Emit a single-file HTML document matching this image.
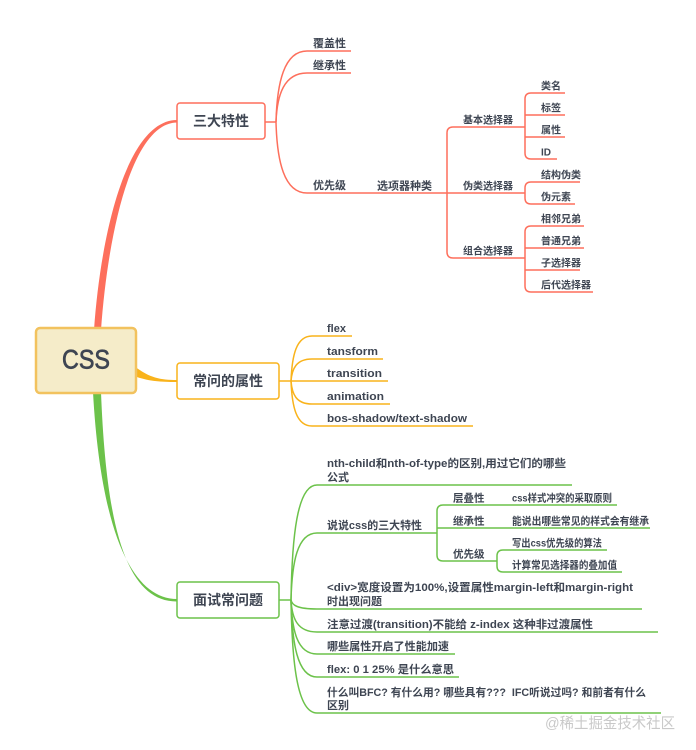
<!DOCTYPE html>
<html>
<head>
<meta charset="utf-8">
<style>
  html,body{margin:0;padding:0;background:#fff;}
  svg{display:block;}
  text{font-family:"Liberation Sans","Noto Sans CJK SC",sans-serif;fill:#3e4552;font-weight:bold;}
  .l2{font-size:11px;}
  .l3{font-size:10px;}
  .g3{font-size:10.5px;}
  .box{font-size:14px;}
</style>
</head>
<body>
<svg width="696" height="750" viewBox="0 0 696 750" xmlns="http://www.w3.org/2000/svg">
<rect width="696" height="750" fill="#fff"/>

<!-- trunks -->
<path d="M94,330 C101,230 128,120 177,120 L177,122.5 C132,123 108,232 101,330 Z" fill="#fd6f5c"/>
<path d="M134,366 C150,378 160,380 177,380 L177,382 C158,382 148,381 134,376 Z" fill="#f9b31b"/>
<path d="M93,392 C100,520 128,599 177,599 L177,601.5 C124,602 106,520 101,392 Z" fill="#6cc24a"/>

<!-- CSS root -->
<rect x="36" y="328" width="100" height="65" rx="4" fill="#f5ecc9" stroke="#f2c25e" stroke-width="2.5"/>
<text x="62" y="368.5" font-size="27" style="font-weight:normal;stroke:#3e4552;stroke-width:0.7" textLength="48" lengthAdjust="spacingAndGlyphs">CSS</text>

<!-- RED branch -->
<g fill="none" stroke="#fd6f5c" stroke-width="1.5">
  <rect x="177" y="103" width="88" height="36" rx="3" fill="#fff"/>
  <path d="M265,122 L276,122"/>
  <path d="M276,122 C277,83 284,51 307,51 L351,51"/>
  <path d="M276,122 C277,95 284,73 307,73 L351,73"/>
  <path d="M276,122 C277,161 284,193 307,193 L525,193"/>
  <path d="M525,127 L453,127 Q447,127 447,133 L447,252 Q447,258 453,258 L525,258"/>
  <path d="M565,93 L531,93 Q525,93 525,99 L525,153 Q525,159 531,159 L557,159"/>
  <path d="M525,115 L565,115 M525,137 L565,137"/>
  <path d="M580,182 L531,182 Q525,182 525,188 L525,198 Q525,204 531,204 L575,204"/>
  <path d="M584,226 L531,226 Q525,226 525,232 L525,286 Q525,292 531,292 L593,292"/>
  <path d="M525,248 L584,248 M525,270 L580,270"/>
</g>
<text class="box" x="221" y="126" text-anchor="middle">三大特性</text>
<text class="l2" x="313" y="47">覆盖性</text>
<text class="l2" x="313" y="69">继承性</text>
<text class="l2" x="313" y="189">优先级</text>
<text class="l2" x="377" y="189.5">选项器种类</text>
<text class="l3" x="463" y="123.5">基本选择器</text>
<text class="l3" x="463" y="189.5">伪类选择器</text>
<text class="l3" x="463" y="254.5">组合选择器</text>
<text class="l3" x="541" y="89.5">类名</text>
<text class="l3" x="541" y="111.5">标签</text>
<text class="l3" x="541" y="133.5">属性</text>
<text class="l3" x="541" y="155.5">ID</text>
<text class="l3" x="541" y="178.5">结构伪类</text>
<text class="l3" x="541" y="200.5">伪元素</text>
<text class="l3" x="541" y="222.5">相邻兄弟</text>
<text class="l3" x="541" y="244.5">普通兄弟</text>
<text class="l3" x="541" y="266.5">子选择器</text>
<text class="l3" x="541" y="288.5">后代选择器</text>

<!-- ORANGE branch -->
<g fill="none" stroke="#f9b31b" stroke-width="1.5">
  <rect x="177" y="363" width="102" height="36" rx="3" fill="#fff"/>
  <path d="M279,381 L291,381"/>
  <path d="M291,381 C292,356 296,336 312,336 L352,336"/>
  <path d="M291,381 C292,369 296,359 312,359 L383,359"/>
  <path d="M291,381 L388,381"/>
  <path d="M291,381 C292,394 296,404 312,404 L390,404"/>
  <path d="M291,381 C292,406 296,426 312,426 L473,426"/>
</g>
<text class="box" x="228" y="386" text-anchor="middle">常问的属性</text>
<text class="l2" x="327" y="332">flex</text>
<text class="l2" x="327" y="355" textLength="51" lengthAdjust="spacingAndGlyphs">tansform</text>
<text class="l2" x="327" y="377" textLength="55" lengthAdjust="spacingAndGlyphs">transition</text>
<text class="l2" x="327" y="400" textLength="57" lengthAdjust="spacingAndGlyphs">animation</text>
<text class="l2" x="327" y="422" textLength="140" lengthAdjust="spacingAndGlyphs">bos-shadow/text-shadow</text>

<!-- GREEN branch -->
<g fill="none" stroke="#6cc24a" stroke-width="1.5">
  <rect x="177" y="582" width="102" height="36" rx="3" fill="#fff"/>
  <path d="M279,600 L291,600"/>
  <path d="M291,600 C292,537 297,485 317,485 L572,485"/>
  <path d="M291,600 C292,563 297,533 317,533 L437,533"/>
  <path d="M291,600 C292,605 297,609 317,609 L642,609"/>
  <path d="M291,600 C292,618 297,632 317,632 L658,632"/>
  <path d="M291,600 C292,630 297,654 317,654 L455,654"/>
  <path d="M291,600 C292,642 297,677 317,677 L459,677"/>
  <path d="M291,600 C292,662 297,713 317,713 L661,713"/>
  <path d="M617,505 L443,505 Q437,505 437,511 L437,555 Q437,561 443,561 L497,561"/>
  <path d="M437,528 L650,528"/>
  <path d="M607,550 L503,550 Q497,550 497,556 L497,566 Q497,572 503,572 L622,572"/>
</g>
<text class="box" x="228" y="605" text-anchor="middle">面试常问题</text>
<text class="l2" x="327" y="467" textLength="239" lengthAdjust="spacingAndGlyphs">nth-child和nth-of-type的区别,用过它们的哪些</text>
<text class="l2" x="327" y="481">公式</text>
<text class="l2" x="327" y="529" textLength="95" lengthAdjust="spacingAndGlyphs">说说css的三大特性</text>
<text class="l2" x="327" y="591" textLength="306" lengthAdjust="spacingAndGlyphs">&lt;div&gt;宽度设置为100%,设置属性margin-left和margin-right</text>
<text class="l2" x="327" y="605">时出现问题</text>
<text class="l2" x="327" y="628" textLength="266" lengthAdjust="spacingAndGlyphs">注意过渡(transition)不能给 z-index 这种非过渡属性</text>
<text class="l2" x="327" y="650" textLength="122" lengthAdjust="spacingAndGlyphs">哪些属性开启了性能加速</text>
<text class="l2" x="327" y="673" textLength="127" lengthAdjust="spacingAndGlyphs">flex: 0 1 25% 是什么意思</text>
<text class="l2" x="327" y="696" textLength="319" lengthAdjust="spacingAndGlyphs">什么叫BFC? 有什么用? 哪些具有???&#160; IFC听说过吗? 和前者有什么</text>
<text class="l2" x="327" y="709">区别</text>

<text class="g3" x="453" y="501.5">层叠性</text>
<text class="g3" x="453" y="524.5">继承性</text>
<text class="g3" x="453" y="557.5">优先级</text>
<text class="g3" x="512" y="501.5" textLength="100" lengthAdjust="spacingAndGlyphs">css样式冲突的采取原则</text>
<text class="g3" x="512" y="524.5" textLength="137" lengthAdjust="spacingAndGlyphs">能说出哪些常见的样式会有继承</text>
<text class="g3" x="512" y="546.5" textLength="90" lengthAdjust="spacingAndGlyphs">写出css优先级的算法</text>
<text class="g3" x="512" y="568.5" textLength="105" lengthAdjust="spacingAndGlyphs">计算常见选择器的叠加值</text>

<!-- watermark -->
<text x="545" y="728" font-size="15" style="font-weight:normal;fill:#c9c9c9" textLength="130" lengthAdjust="spacingAndGlyphs">@稀土掘金技术社区</text>
</svg>
</body>
</html>
